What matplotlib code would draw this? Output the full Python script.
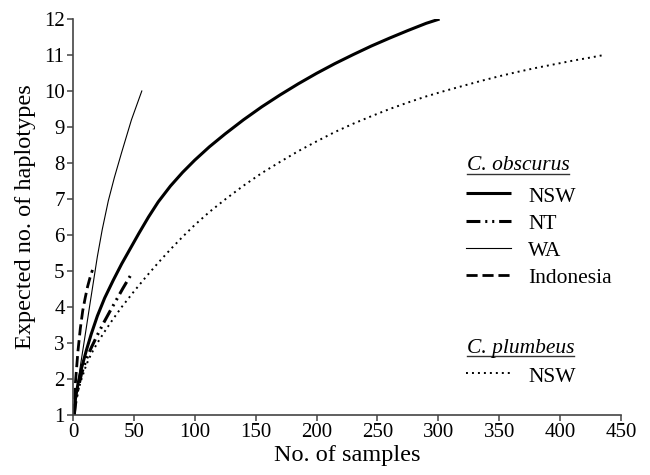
import matplotlib
matplotlib.use('Agg')
import matplotlib.pyplot as plt
from matplotlib.lines import Line2D

plt.rcParams['font.family'] = ['Liberation Serif', 'DejaVu Serif']
plt.rcParams['lines.scale_dashes'] = False

# rarefaction curves, values
nsw_x = [1, 2, 4, 7, 11, 15, 20, 26, 33, 40, 47, 54, 62, 70, 80, 90, 100, 112, 125, 140, 155, 170, 185,
         200, 215, 230, 245, 260, 275, 290, 301]
nsw_y = [1, 1.45, 1.85, 2.3, 2.8, 3.25, 3.75, 4.25, 4.74, 5.2, 5.62, 6.04, 6.5, 6.92, 7.36, 7.74, 8.08,
         8.45, 8.81, 9.2, 9.56, 9.89, 10.2, 10.49, 10.76, 11.01, 11.25, 11.47, 11.68, 11.88, 12.0]

nt_x = [1, 2, 4, 7, 11, 15, 20, 25, 30, 35, 41, 48]
nt_y = [1, 1.3, 1.7, 2.15, 2.55, 2.87, 3.22, 3.55, 3.86, 4.16, 4.52, 4.92]

wa_x = [1, 3, 6, 9, 14, 20, 24, 29, 34, 40, 48, 56.5]
wa_y = [1, 1.65, 2.35, 3.0, 4.1, 5.4, 6.15, 6.95, 7.6, 8.3, 9.2, 10.0]

indo_x = [1, 2, 4, 6, 8, 10, 12, 14, 16]
indo_y = [1, 1.9, 2.75, 3.4, 3.9, 4.25, 4.57, 4.82, 5.03]

plum_x = [1, 2, 4, 7, 11, 15, 20, 26, 33, 40, 50, 60, 70, 80, 90, 100, 112, 125, 140, 155, 170, 185, 200,
          215, 230, 245, 260, 275, 290, 305, 320, 335, 350, 365, 380, 395, 410, 425, 436]
plum_y = [1, 1.38, 1.65, 2.0, 2.4, 2.7, 3.0, 3.32, 3.67, 4.0, 4.43, 4.84, 5.23, 5.6, 5.95, 6.28, 6.64, 6.99,
          7.37, 7.72, 8.03, 8.33, 8.6, 8.86, 9.09, 9.3, 9.5, 9.68, 9.85, 10.0, 10.14, 10.28, 10.41, 10.53,
          10.64, 10.74, 10.84, 10.93, 11.0]

W, H = 650, 475
fig = plt.figure(figsize=(6.5, 4.75), dpi=100)
ax = fig.add_axes([73/W, 1-415/H, (621-73)/W, (415-19)/H])

st_nsw = dict(color='black', lw=2.2, ls='-', solid_capstyle='butt')
st_nt = dict(color='black', lw=2.2, ls=(0, (10, 3.5, 1.5, 3.5, 1.5, 3.5)))
st_wa = dict(color='black', lw=0.8, ls='-')
st_indo = dict(color='black', lw=2.0, ls=(0, (8, 3.5)))
st_plum = dict(color='black', lw=1.4, ls=(0, (1.4, 2.9)))

ax.plot(nsw_x, nsw_y, **st_nsw)
ax.plot(nt_x, nt_y, **st_nt)
ax.plot(wa_x, wa_y, **st_wa)
ax.plot(indo_x, indo_y, **st_indo)
ax.plot(plum_x, plum_y, **st_plum)

ax.set_xlim(0, 450)
ax.set_ylim(1, 12)
ax.set_xticks(range(0, 451, 50))
ax.set_yticks(range(1, 13))
for s in ['top', 'right']:
    ax.spines[s].set_visible(False)
for s in ['left', 'bottom']:
    ax.spines[s].set_color('#444444')
    ax.spines[s].set_linewidth(1.2)
ax.tick_params(direction='out', length=4, width=1.1, color='#444444', labelsize=15, pad=2)
ax.set_xlabel('No. of samples', fontsize=17.5, labelpad=2)
ax.set_ylabel('Expected no. of haplotypes', fontsize=17.5, labelpad=6)

# legend drawn by hand (two groups with underlined italic headers)
def fx(px):
    return px / W

def fy(py):
    return 1 - py / H

headers = []
headers.append(fig.text(fx(466.5), fy(170.5), 'C. obscurus', style='italic', fontsize=15.5, va='baseline'))
headers.append(fig.text(fx(466.5), fy(352.5), 'C. plumbeus', style='italic', fontsize=15.5, va='baseline'))

entries = [('NSW', st_nsw, 193.3), ('NT', st_nt, 220.7), ('WA', st_wa, 248.0),
           ('Indonesia', st_indo, 275.0), ('NSW', st_plum, 373.3)]
for lab, st, py in entries:
    fig.add_artist(Line2D([fx(466), fx(511)], [fy(py), fy(py)], transform=fig.transFigure, **st))
    fig.text(fx(528), fy(py + 8.3), lab, fontsize=15.5, va='baseline')

fig.canvas.draw()
r = fig.canvas.get_renderer()
for t, uy in zip(headers, [173.5, 356.0]):
    bb = t.get_window_extent(r)
    fig.add_artist(Line2D([bb.x0 / W, bb.x1 / W], [fy(uy), fy(uy)], transform=fig.transFigure,
                          color='#333333', lw=1.0))

fig.savefig('out.png', dpi=100)
